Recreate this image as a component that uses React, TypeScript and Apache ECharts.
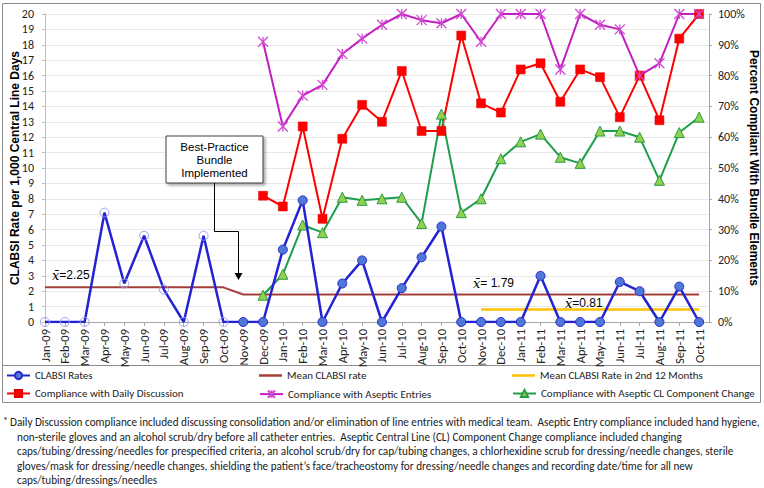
import React, { useEffect, useRef } from "react";
import * as echarts from "echarts";

const months = [
  "Jan-09", "Feb-09", "Mar-09", "Apr-09", "May-09", "Jun-09", "Jul-09", "Aug-09", "Sep-09", "Oct-09", "Nov-09", "Dec-09",
  "Jan-10", "Feb-10", "Mar-10", "Apr-10", "May-10", "Jun-10", "Jul-10", "Aug-10", "Sep-10", "Oct-10", "Nov-10", "Dec-10",
  "Jan-11", "Feb-11", "Mar-11", "Apr-11", "May-11", "Jun-11", "Jul-11", "Aug-11", "Sep-11", "Oct-11",
];

const clabsiRates = [0, 0, 0, 7.1, 2.5, 5.6, 2.1, 0, 5.6, 0, 0, 0, 4.7, 7.9, 0, 2.5, 4.0, 0, 2.2, 4.2, 6.2, 0, 0, 0, 0, 3.0, 0, 0, 0, 2.6, 2.0, 0, 2.3, 0];
const hollowUntil = 10; // Jan-09..Oct-09 drawn with open markers

const meanClabsi = [2.25, 2.25, 2.25, 2.25, 2.25, 2.25, 2.25, 2.25, 2.25, 2.25, 1.79, 1.79, 1.79, 1.79, 1.79, 1.79, 1.79, 1.79, 1.79, 1.79, 1.79, 1.79, 1.79, 1.79, 1.79, 1.79, 1.79, 1.79, 1.79, 1.79, 1.79, 1.79, 1.79, 1.79];
const mean2ndStart = 22;
const mean2nd = [0.81, 0.81, 0.81, 0.81, 0.81, 0.81, 0.81, 0.81, 0.81, 0.81, 0.81, 0.81];

const complianceStart = 11; // Dec-09
const dailyDiscussion = [41, 37.5, 63.5, 33.5, 59.5, 70.5, 65, 81.5, 62, 62, 93, 71, 68, 82, 84, 71.5, 82, 79.5, 66.5, 80, 65.5, 92, 100];
const asepticEntries = [91, 63.5, 73.5, 77, 87, 92, 96.5, 100, 98, 97, 100, 91, 100, 100, 100, 82, 100, 96.5, 95, 80, 84, 100, 100];
const clChange = [8.7, 15.5, 31.5, 29, 40.5, 39.5, 40, 40.5, 32, 67.5, 35.5, 40, 53, 58.5, 61, 53.5, 51.5, 62, 62, 60, 46, 61.5, 66.5];

const footnote = [
  "Daily Discussion compliance included discussing consolidation and/or elimination of line entries with medical team.  Aseptic Entry compliance included hand hygiene,",
  "non-sterile gloves and an alcohol scrub/dry before all catheter entries.  Aseptic Central Line (CL) Component Change compliance included changing",
  "caps/tubing/dressing/needles for prespecified criteria, an alcohol scrub/dry for cap/tubing changes, a chlorhexidine scrub for dressing/needle changes, sterile",
  "gloves/mask for dressing/needle changes, shielding the patient\u2019s face/tracheostomy for dressing/needle changes and recording date/time for all new",
  "caps/tubing/dressings/needles",
];

const NARROW = "Carlito, 'Liberation Sans Narrow', Lato, sans-serif";
const ARIAL = "'Liberation Sans', Arial, sans-serif";
const ASTERISK = "path://M0,0L10,10M10,0L0,10M5,0L5,10";

export default function App() {
  const ref = useRef<HTMLDivElement>(null);
  useEffect(() => {
    if (!ref.current) return;
    const chart = echarts.init(ref.current, undefined, { renderer: "svg" });

    const legendBase = {
      itemWidth: 23,
      itemHeight: 9,
      itemGap: 0,
      padding: 0,
      textStyle: { fontFamily: NARROW, fontSize: 11, color: "#222" },
    };
    const lineLegend = { ...legendBase, itemHeight: 2.5 };

    const xbar = (txt: string, x: number, y: number) => ({
      type: "text",
      x,
      y,
      z: 12,
      style: {
        text: "{i|x\u0304}{n|" + txt + "}",
        verticalAlign: "middle",
        rich: {
          i: { fontFamily: "'DejaVu Serif', 'Liberation Serif', serif", fontStyle: "italic", fontSize: 13, fill: "#000" },
          n: { fontFamily: ARIAL, fontSize: 12, fill: "#000" },
        },
      },
    });

    const option: any = {
      animation: false,
      backgroundColor: "#fff",
      grid: { left: 45, right: 55, top: 14, bottom: 166, containLabel: false, outerBoundsMode: "none" },
      xAxis: {
        type: "value",
        min: 0,
        max: 33.5,
        interval: 1,
        splitLine: { show: false },
        axisLine: { show: true, onZero: false, lineStyle: { color: "#a6a6a6" } },
        axisTick: { show: true, length: 4, lineStyle: { color: "#a6a6a6" } },
        axisLabel: {
          rotate: 90,
          margin: 7,
          fontFamily: NARROW,
          fontSize: 12.5,
          color: "#222",
          showMaxLabel: false,
          formatter: (v: number) => (Number.isInteger(v) && months[v] ? months[v] : ""),
        },
      },
      yAxis: [
        {
          type: "value",
          min: 0,
          max: 20,
          interval: 1,
          name: "CLABSI Rate per 1,000 Central Line Days",
          nameLocation: "middle",
          nameGap: 24,
          nameMoveOverlap: false,
          nameTextStyle: { fontFamily: ARIAL, fontWeight: "bold", fontSize: 12, color: "#000" },
          axisLine: { show: true, lineStyle: { color: "#bfbfbf" } },
          axisTick: { show: true, length: 3, lineStyle: { color: "#bfbfbf" } },
          axisLabel: { margin: 11, fontFamily: NARROW, fontSize: 12, color: "#222" },
          splitLine: { show: true, lineStyle: { color: "#e8e8e8", width: 1 } },
        },
        {
          type: "value",
          min: 0,
          max: 100,
          interval: 10,
          position: "right",
          name: "Percent Compliant With Bundle Elements",
          nameLocation: "middle",
          nameGap: 39,
          nameRotate: -90,
          nameMoveOverlap: false,
          nameTextStyle: { fontFamily: ARIAL, fontWeight: "bold", fontSize: 12, color: "#000" },
          axisLine: { show: true, lineStyle: { color: "#a6a6a6" } },
          axisTick: { show: true, length: 3, lineStyle: { color: "#a6a6a6" } },
          axisLabel: { margin: 9, fontFamily: NARROW, fontSize: 12, color: "#222", formatter: "{value}%" },
          splitLine: { show: false },
        },
      ],
      legend: [
        { ...legendBase, data: ["CLABSI Rates"], left: 6, top: 370 },
        { ...lineLegend, data: [{ name: "Mean CLABSI rate", icon: "rect" }], left: 259, top: 370 },
        { ...lineLegend, data: [{ name: "Mean CLABSI Rate in 2nd 12 Months", icon: "rect" }], left: 512, top: 370 },
        { ...legendBase, data: ["Compliance with Daily Discussion"], left: 6, top: 388 },
        { ...legendBase, data: ["Compliance with Aseptic Entries"], left: 259, top: 388 },
        { ...legendBase, data: ["Compliance with Aseptic CL Component Change"], left: 512, top: 388 },
      ],
      series: [
        {
          name: "Mean CLABSI rate",
          type: "line",
          yAxisIndex: 0,
          symbol: "none",
          lineStyle: { color: "#A33F38", width: 2 },
          itemStyle: { color: "#A33F38" },
          data: meanClabsi.map((v, i) => [i, v]),
          z: 2,
        },
        {
          name: "Mean CLABSI Rate in 2nd 12 Months",
          type: "line",
          yAxisIndex: 0,
          symbol: "none",
          lineStyle: { color: "#FFC000", width: 2.5 },
          itemStyle: { color: "#FFC000" },
          data: mean2nd.map((v, i) => [i + mean2ndStart, v]),
          z: 2,
        },
        {
          name: "Compliance with Daily Discussion",
          type: "line",
          yAxisIndex: 1,
          symbol: "rect",
          symbolSize: 9,
          lineStyle: { color: "#FF0000", width: 2 },
          itemStyle: { color: "#FF0000", borderColor: "#E00000", borderWidth: 0.5 },
          data: dailyDiscussion.map((v, i) => [i + complianceStart, v]),
          z: 3,
        },
        {
          name: "Compliance with Aseptic Entries",
          type: "line",
          yAxisIndex: 1,
          symbol: ASTERISK,
          symbolSize: 10,
          lineStyle: { color: "#C21FC2", width: 2 },
          itemStyle: { color: "none", borderColor: "#D24AD2", borderWidth: 1.3 },
          data: asepticEntries.map((v, i) => [i + complianceStart, v]),
          z: 3,
        },
        {
          name: "Compliance with Aseptic CL Component Change",
          type: "line",
          yAxisIndex: 1,
          symbol: "triangle",
          symbolSize: 10,
          lineStyle: { color: "#1E9E48", width: 2 },
          itemStyle: { color: "#92D050", borderColor: "#2A9A45", borderWidth: 1 },
          data: clChange.map((v, i) => [i + complianceStart, v]),
          z: 3,
        },
        {
          name: "CLABSI Rates",
          type: "line",
          yAxisIndex: 0,
          symbol: "circle",
          symbolSize: 9,
          lineStyle: { color: "#2323D3", width: 2.5 },
          itemStyle: { color: "#4F78D6", borderColor: "#2A2ACF", borderWidth: 1 },
          data: clabsiRates.map((v, i) =>
            i < hollowUntil
              ? { value: [i, v], itemStyle: { color: "rgba(255,255,255,0)", borderColor: "#9E9EF2", borderWidth: 1 } }
              : { value: [i, v] }
          ),
          z: 4,
        },
      ],
      graphic: [
        { type: "rect", shape: { x: 2.5, y: 3.5, width: 758, height: 362 }, style: { fill: "none", stroke: "#8c8c8c", lineWidth: 1 }, silent: true },
        { type: "rect", shape: { x: 2.5, y: 365.5, width: 758, height: 37 }, style: { fill: "none", stroke: "#8c8c8c", lineWidth: 1 }, silent: true },
        {
          type: "rect",
          shape: { x: 166, y: 136, width: 97, height: 47 },
          style: { fill: "#fff", stroke: "#404040", lineWidth: 1, shadowBlur: 3, shadowOffsetX: 2, shadowOffsetY: 2, shadowColor: "rgba(0,0,0,0.35)" },
          z: 10,
        },
        {
          type: "text",
          x: 214.5,
          y: 160,
          z: 11,
          style: {
            text: "Best-Practice\nBundle\nImplemented",
            align: "center",
            verticalAlign: "middle",
            lineHeight: 13,
            fontFamily: ARIAL,
            fontSize: 11.5,
            fill: "#000",
          },
        },
        { type: "polyline", shape: { points: [[214.5, 183], [214.5, 231.5], [238.5, 231.5], [238.5, 274]] }, style: { stroke: "#000", lineWidth: 1, fill: "none" }, z: 10 },
        { type: "polygon", shape: { points: [[234.5, 273], [242.5, 273], [238.5, 280]] }, style: { fill: "#000" }, z: 10 },
        xbar("=2.25", 52, 275),
        xbar("= 1.79", 473, 283),
        xbar("=0.81", 565, 303),
        { type: "text", x: 3, y: 415, style: { text: "*", fontFamily: NARROW, fontSize: 10, fill: "#222" } },
        ...footnote.map((line, k) => ({
          type: "text",
          x: k === 0 ? 10 : 17,
          y: 422 + k * 14.5,
          style: { text: line, verticalAlign: "middle", fontFamily: NARROW, fontSize: 11.2, fill: "#222" },
        })),
      ],
    };

    chart.setOption(option);
    return () => chart.dispose();
  }, []);

  return <div ref={ref} style={{ position: "fixed", left: 0, top: 0, width: 764, height: 488 }} />;
}
